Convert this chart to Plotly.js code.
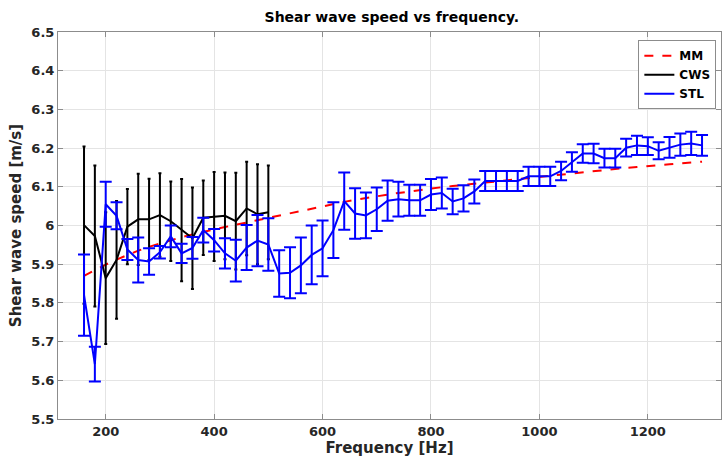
<!DOCTYPE html>
<html>
<head>
<meta charset="utf-8">
<script src="https://cdn.plot.ly/plotly-3.0.1.min.js"></script>
<style>html,body{margin:0;padding:0;background:#fff;}#chart{width:723px;height:463px;}</style>
</head>
<body>
<div id="chart"></div>
<script>
// Frequencies [Hz]
const freqSTL = [160,180,200,220,240,260,280,300,320,340,360,380,400,420,440,460,480,500,520,540,560,580,600,620,640,660,680,700,720,740,760,780,800,820,840,860,880,900,920,940,960,980,1000,1020,1040,1060,1080,1100,1120,1140,1160,1180,1200,1220,1240,1260,1280,1300];
const freqCWS = [160,180,200,220,240,260,280,300,320,340,360,380,400,420,440,460,480,500];

// MM model curve
const mmSpeed = [5.870,5.885,5.899,5.912,5.924,5.935,5.945,5.954,5.962,5.970,5.977,5.984,5.990,5.996,6.002,6.008,6.014,6.020,6.026,6.032,6.038,6.044,6.050,6.056,6.061,6.066,6.071,6.076,6.080,6.084,6.088,6.092,6.096,6.099,6.102,6.105,6.108,6.111,6.114,6.117,6.120,6.123,6.126,6.129,6.132,6.135,6.138,6.141,6.143,6.146,6.149,6.151,6.154,6.156,6.158,6.161,6.163,6.165];

// CWS mean and error
const cwsSpeed = [6.001,5.973,5.864,5.911,5.997,6.016,6.016,6.027,6.011,5.988,5.967,6.020,6.023,6.025,6.011,6.044,6.029,6.034];
const cwsErr   = [0.203,0.182,0.170,0.152,0.097,0.118,0.105,0.108,0.103,0.132,0.131,0.096,0.115,0.112,0.125,0.121,0.129,0.121];

// STL mean and error
const stlSpeed = [5.820,5.642,6.055,6.025,5.938,5.911,5.907,5.931,5.972,5.928,5.942,5.988,5.962,5.928,5.909,5.943,5.961,5.951,5.876,5.878,5.897,5.924,5.941,5.988,6.063,6.031,6.026,6.042,6.064,6.068,6.065,6.065,6.080,6.084,6.062,6.070,6.088,6.115,6.115,6.115,6.115,6.127,6.127,6.127,6.141,6.164,6.186,6.186,6.174,6.174,6.201,6.207,6.205,6.193,6.202,6.209,6.212,6.207];
const stlErr   = [0.105,0.045,0.058,0.035,0.027,0.058,0.034,0.016,0.028,0.025,0.028,0.032,0.029,0.039,0.054,0.058,0.066,0.068,0.060,0.066,0.072,0.076,0.072,0.072,0.074,0.065,0.059,0.056,0.052,0.045,0.040,0.040,0.040,0.040,0.033,0.034,0.031,0.026,0.026,0.026,0.026,0.025,0.025,0.025,0.024,0.025,0.024,0.025,0.024,0.024,0.023,0.025,0.023,0.022,0.027,0.029,0.030,0.027];

const tickVals = [5.5,5.6,5.7,5.8,5.9,6.0,6.1,6.2,6.3,6.4,6.5];
const tickText = ['5.5','5.6','5.7','5.8','5.9','6','6.1','6.2','6.3','6.4','6.5'];

const FONT = 'DejaVu Sans, Liberation Sans, sans-serif';

const traces = [
  {x: freqSTL, y: mmSpeed, name: 'MM', type: 'scatter', mode: 'lines',
   line: {color: '#ff0000', width: 2, dash: 'dash'}},
  {x: freqCWS, y: cwsSpeed, name: 'CWS', type: 'scatter', mode: 'lines',
   line: {color: '#000000', width: 2},
   error_y: {type: 'data', array: cwsErr, visible: true, color: '#000000', thickness: 2, width: 1.5}},
  {x: freqSTL, y: stlSpeed, name: 'STL', type: 'scatter', mode: 'lines',
   line: {color: '#0000ff', width: 2},
   error_y: {type: 'data', array: stlErr, visible: true, color: '#0000ff', thickness: 2, width: 6}}
];

const axisCommon = {
  showline: true, linecolor: '#8c8c8c', linewidth: 1, mirror: 'ticks',
  ticks: 'inside', ticklen: 5, tickcolor: '#8c8c8c',
  showgrid: true, gridcolor: '#e4e4e4', gridwidth: 1, zeroline: false, automargin: false,
  tickfont: {family: FONT, size: 13, color: '#262626', weight: 'bold'}
};

const layout = {
  width: 723, height: 463,
  margin: {l: 58, r: 2, t: 32, b: 44},
  paper_bgcolor: '#ffffff', plot_bgcolor: '#ffffff',
  title: {text: '<b>Shear wave speed vs frequency.</b>', x: 0.542, xanchor: 'center', y: 0.963, yanchor: 'middle',
          font: {family: FONT, size: 14, color: '#000000'}},
  xaxis: Object.assign({}, axisCommon, {
    range: [112, 1335], tickvals: [200,400,600,800,1000,1200],
    title: {text: '<b>Frequency [Hz]</b>', standoff: 4, font: {family: FONT, size: 15, color: '#262626'}}
  }),
  yaxis: Object.assign({}, axisCommon, {
    range: [5.5, 6.5], tickvals: tickVals, ticktext: tickText,
    title: {text: '<b>Shear wave speed [m/s]</b>', standoff: 6, font: {family: FONT, size: 15, color: '#262626'}}
  }),
  legend: {x: 0.993, y: 0.979, xanchor: 'right', yanchor: 'top',
           bgcolor: '#ffffff', bordercolor: '#8c8c8c', borderwidth: 1,
           font: {family: FONT, size: 12, color: '#000000', weight: 'bold'},
           tracegroupgap: 0, itemwidth: 30},
  showlegend: true
};

Plotly.newPlot('chart', traces, layout, {displayModeBar: false, staticPlot: true});
</script>
</body>
</html>
